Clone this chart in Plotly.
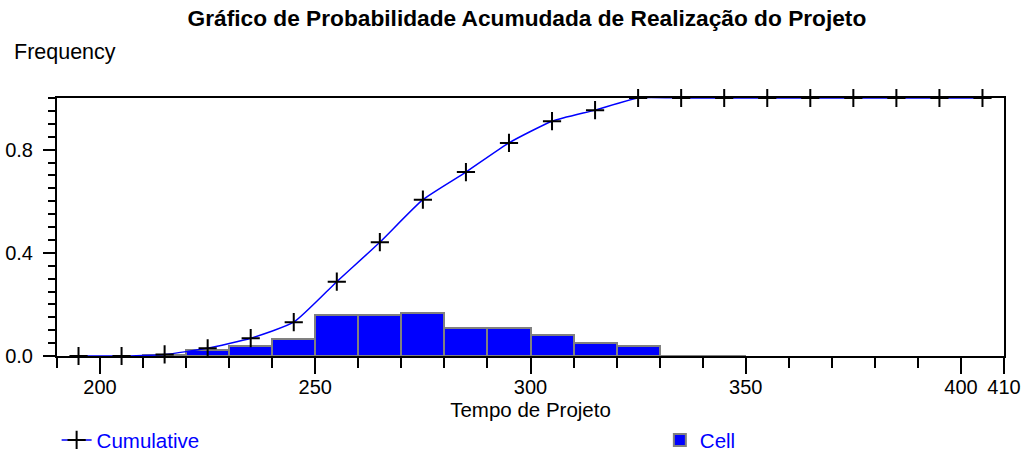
import plotly.graph_objects as go

# Histogram cells (bin midpoints, width 10) and their relative frequencies
tempo_celula = [215, 225, 235, 245, 255, 265, 275, 285, 295, 305, 315, 325, 335, 345]
freq_celula = [0.005, 0.023, 0.040, 0.065, 0.157, 0.157, 0.166, 0.108, 0.110,
               0.082, 0.049, 0.040, 0.001, 0.001]

# Cumulative probability evaluated at the bin midpoints
tempo_acum = [195, 205, 215, 225, 235, 245, 255, 265, 275, 285, 295,
              305, 315, 325, 335, 345, 355, 365, 375, 385, 395, 405]
freq_acum = [0.0, 0.0, 0.006, 0.030, 0.069, 0.131, 0.288, 0.441, 0.606, 0.713, 0.826,
             0.910, 0.953, 1.0, 1.0, 1.0, 1.0, 1.0, 1.0, 1.0, 1.0, 1.0]

x_ticks = [200, 250, 300, 350, 400, 410]
y_ticks = [0.0, 0.4, 0.8]
y_ticktext = ["0.0", "0.4", "0.8"]

FONT = "Liberation Sans, Arial, sans-serif"
BLUE = "#0000FF"

fig = go.Figure()

fig.add_trace(go.Bar(
    x=tempo_celula, y=freq_celula, width=10, name="Cell",
    marker=dict(color=BLUE, line=dict(color="#808080", width=2)),
    legend="legend2", showlegend=True,
))

fig.add_trace(go.Scatter(
    x=tempo_acum, y=freq_acum, mode="lines+markers", name="Cumulative",
    line=dict(color=BLUE, width=1.5, shape="spline", smoothing=0.5),
    marker=dict(symbol="cross-thin", size=13, color="black",
                line=dict(color="black", width=2)),
    cliponaxis=False,
    legend="legend", showlegend=True,
))

fig.update_layout(
    width=1026, height=454,
    margin=dict(l=57, r=22, t=98, b=98, autoexpand=False),
    paper_bgcolor="white", plot_bgcolor="white",
    font=dict(family=FONT, size=20, color="black"),
    bargap=0,
    showlegend=True,
    title=dict(
        text="<b>Gráfico de Probabilidade Acumudada de Realização do Projeto</b>",
        x=0.5136, xanchor="center", y=0.960, yanchor="middle",
        font=dict(family=FONT, size=22.7, color="black"),
    ),
    xaxis=dict(
        range=[190, 410], tickvals=x_ticks,
        ticks="outside", ticklen=16, tickwidth=2, tickcolor="black",
        showline=True, linecolor="black", linewidth=2, mirror=True,
        showgrid=False, zeroline=False, layer="below traces",
        automargin=False,
        ticklabelstandoff=-4,
        minor=dict(dtick=10, tick0=190, ticks="outside", ticklen=10,
                   tickwidth=2, tickcolor="black", showgrid=False),
        title=dict(text="Tempo de Projeto", standoff=1,
                   font=dict(family=FONT, size=20.5, color="black")),
        tickfont=dict(family=FONT, size=20, color="black"),
    ),
    yaxis=dict(
        range=[0, 1], tickvals=y_ticks, ticktext=y_ticktext,
        ticks="outside", ticklen=12, tickwidth=2, tickcolor="black",
        showline=True, linecolor="black", linewidth=2, mirror=True,
        showgrid=False, zeroline=False, layer="below traces",
        automargin=False,
        ticklabelstandoff=6,
        minor=dict(dtick=0.05, tick0=0, ticks="outside", ticklen=7,
                   tickwidth=2, tickcolor="black", showgrid=False),
        tickfont=dict(family=FONT, size=20, color="black"),
    ),
    legend=dict(
        x=-0.0004, xanchor="left", y=-0.326, yanchor="middle",
        orientation="h", bgcolor="rgba(0,0,0,0)",
        font=dict(family=FONT, size=20.5, color=BLUE),
        itemwidth=30, visible=True,
    ),
    legend2=dict(
        x=0.6366, xanchor="left", y=-0.326, yanchor="middle",
        orientation="h", bgcolor="rgba(0,0,0,0)",
        font=dict(family=FONT, size=20.5, color=BLUE),
        itemwidth=30, visible=True,
    ),
    annotations=[
        dict(text="Frequency", xref="paper", yref="paper",
             x=-0.0475, y=1.178, xanchor="left", yanchor="middle",
             showarrow=False, font=dict(family=FONT, size=21.5, color="black")),
    ],
)

fig.write_html("out.html")
